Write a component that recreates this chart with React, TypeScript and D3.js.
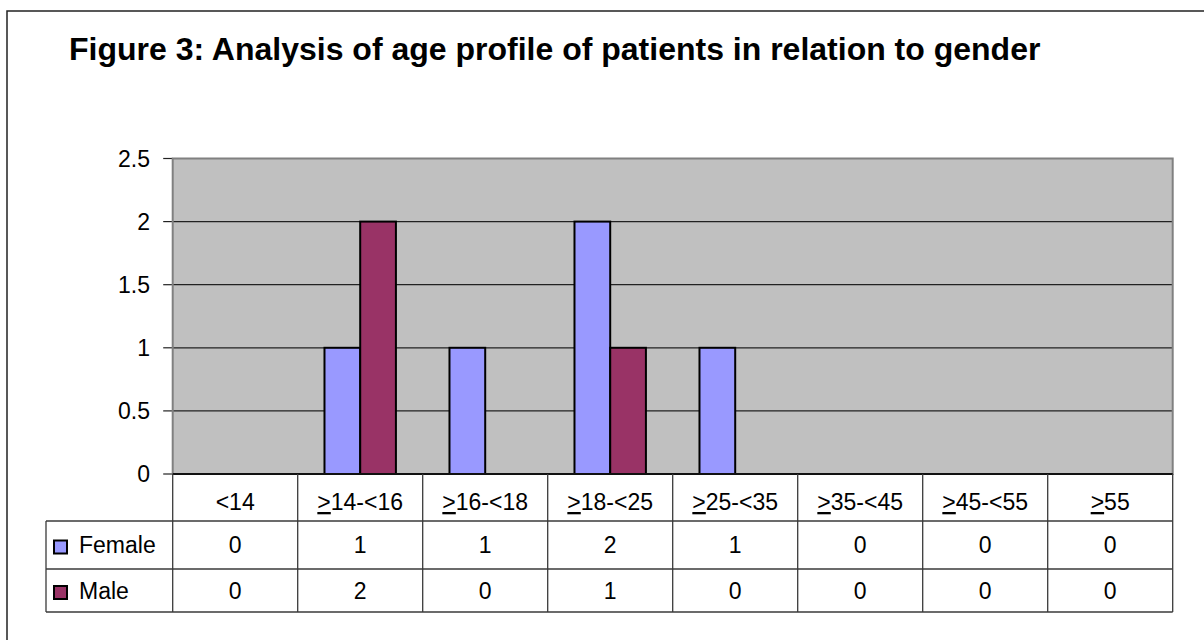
import React from "react";
import * as d3 from "d3";

const categories = ["<14", "14-<16", "16-<18", "18-<25", "25-<35", "35-<45", "45-<55", "55"];
const hasGe = [false, true, true, true, true, true, true, true];
const femaleValues = [0, 1, 1, 2, 1, 0, 0, 0];
const maleValues = [0, 2, 0, 1, 0, 0, 0, 0];
const yTicks = [0, 0.5, 1, 1.5, 2, 2.5];
const seriesNames = ["Female", "Male"];
const seriesColors = ["#9999FF", "#993366"];
const title = "Figure 3: Analysis of age profile of patients in relation to gender";

const W = 1204;
const H = 640;
const FONT = "'Liberation Sans', Arial, Helvetica, sans-serif";

export default function App() {
  const plotL = 172.7;
  const plotR = 1172.7;
  const plotT = 158.5;
  const plotB = 474;
  const tableL = 46;
  const rowH = [47, 48, 43]; // header, female, male
  const rowTops = [plotB, plotB + rowH[0], plotB + rowH[0] + rowH[1]];
  const tableB = rowTops[2] + rowH[2];

  const x = d3.scaleBand<string>().domain(categories).range([plotL, plotR]).padding(0);
  const y = d3.scaleLinear().domain([0, 2.5]).range([plotB, plotT]);
  const bw = x.bandwidth();
  const barW = bw / 3.5;
  const sub = d3
    .scaleBand<string>()
    .domain(seriesNames)
    .range([0.75 * barW, 2.75 * barW])
    .padding(0);

  const series = [femaleValues, maleValues];
  const lineColor = "#3a3a3a";

  return (
    <div style={{ position: "absolute", left: 0, top: 0 }}>
      <svg width={W} height={H} style={{ display: "block" }} fontFamily={FONT}>
        <rect x={0} y={0} width={W} height={H} fill="#ffffff" />
        {/* outer frame */}
        <rect x={7} y={11} width={W + 50} height={H + 50} fill="none" stroke="#222" strokeWidth={1.5} />
        <text x={69} y={60} fontSize={32} fontWeight="bold" fill="#000">
          {title}
        </text>

        {/* plot area */}
        <rect x={plotL} y={plotT} width={plotR - plotL} height={plotB - plotT} fill="#C0C0C0" />
        {yTicks.map((t) => (
          <g key={t}>
            {t > 0 && t < 2.5 && (
              <line x1={plotL} x2={plotR} y1={y(t)} y2={y(t)} stroke="#222" strokeWidth={1.2} />
            )}
            <line x1={plotL - 9.5} x2={plotL} y1={y(t)} y2={y(t)} stroke="#222" strokeWidth={1.2} />
            <text x={150} y={y(t)} dy="0.36em" textAnchor="end" fontSize={23} fill="#000">
              {String(t)}
            </text>
          </g>
        ))}
        <rect
          x={plotL}
          y={plotT}
          width={plotR - plotL}
          height={plotB - plotT}
          fill="none"
          stroke="#808080"
          strokeWidth={2}
        />

        {/* bars */}
        {series.map((vals, si) =>
          vals.map((v, i) =>
            v > 0 ? (
              <rect
                key={`${si}-${i}`}
                x={(x(categories[i]) as number) + (sub(seriesNames[si]) as number)}
                y={y(v)}
                width={sub.bandwidth()}
                height={y(0) - y(v)}
                fill={seriesColors[si]}
                stroke="#000"
                strokeWidth={2}
              />
            ) : null
          )
        )}
        <line x1={plotL} x2={plotR} y1={plotB} y2={plotB} stroke="#111" strokeWidth={2} />

        {/* data table */}
        {/* horizontal lines */}
        <line x1={tableL} x2={plotR} y1={rowTops[1]} y2={rowTops[1]} stroke={lineColor} strokeWidth={1.3} />
        <line x1={tableL} x2={plotR} y1={rowTops[2]} y2={rowTops[2]} stroke={lineColor} strokeWidth={1.3} />
        <line x1={tableL} x2={plotR} y1={tableB} y2={tableB} stroke={lineColor} strokeWidth={1.3} />
        <line x1={tableL} x2={tableL} y1={rowTops[1]} y2={tableB} stroke={lineColor} strokeWidth={1.3} />
        {/* vertical lines */}
        {categories.map((c) => (
          <line
            key={`v-${c}`}
            x1={x(c) as number}
            x2={x(c) as number}
            y1={plotB}
            y2={tableB}
            stroke={lineColor}
            strokeWidth={1.3}
          />
        ))}
        <line x1={plotR} x2={plotR} y1={plotB} y2={tableB} stroke={lineColor} strokeWidth={1.3} />

        {/* header labels */}
        {categories.map((c, i) => (
          <text
            key={`h-${c}`}
            x={(x(c) as number) + bw / 2}
            y={plotB + 36}
            textAnchor="middle"
            fontSize={23}
            fill="#000"
          >
            {hasGe[i] ? (
              <>
                <tspan textDecoration="underline">{">"}</tspan>
                <tspan>{c}</tspan>
              </>
            ) : (
              c
            )}
          </text>
        ))}

        {/* series rows */}
        {series.map((vals, si) => {
          const top = rowTops[si + 1];
          const h = rowH[si + 1];
          const cy = top + h / 2;
          return (
            <g key={`row-${si}`}>
              <rect
                x={54}
                y={cy - 4.5}
                width={13}
                height={13}
                fill={seriesColors[si]}
                stroke="#000"
                strokeWidth={2}
              />
              <text x={79} y={cy} dy="0.36em" fontSize={23} fill="#000">
                {seriesNames[si]}
              </text>
              {vals.map((v, i) => (
                <text
                  key={`c-${si}-${i}`}
                  x={(x(categories[i]) as number) + bw / 2}
                  y={cy}
                  dy="0.36em"
                  textAnchor="middle"
                  fontSize={23}
                  fill="#000"
                >
                  {String(v)}
                </text>
              ))}
            </g>
          );
        })}
      </svg>
    </div>
  );
}
